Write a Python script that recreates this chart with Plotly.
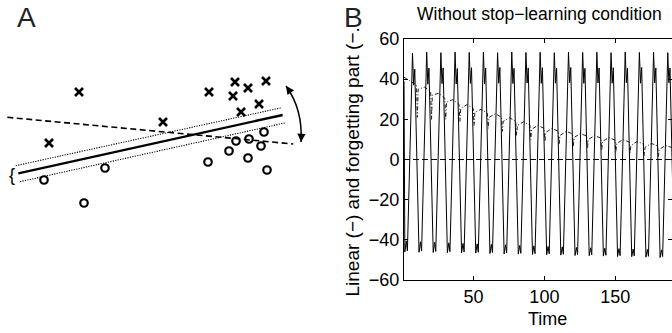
import plotly.graph_objects as go

# ---------------- Panel A (schematic) ----------------
a_cross_x = [79, 49, 163, 209, 235, 248, 266, 233, 259, 241]
a_cross_y = [92, 143, 122, 92, 82, 88, 81, 96, 104, 112]
a_circ_x = [44, 84, 105, 208, 229, 236, 249, 264, 261, 248, 267]
a_circ_y = [180, 203, 168, 162, 151, 141, 139, 132, 146, 158, 170]
a_solid_x = [18.3, 282.7]
a_solid_y = [173.3, 115.0]
a_dot_up_x = [15.7, 281.7]
a_dot_up_y = [165.7, 107.7]
a_dot_lo_x = [20.0, 286.0]
a_dot_lo_y = [181.7, 122.7]
a_dash_x = [7.3, 293.3]
a_dash_y = [117.3, 144.0]

# ---------------- Panel B (time series) ----------------
lin_t = [1.0,
 1.6, 2.6, 3.4, 7.0, 7.8, 8.6,
 11.6, 12.6, 13.4, 17.0, 17.8, 18.6,
 21.6, 22.6, 23.4, 27.0, 27.8, 28.6,
 31.6, 32.6, 33.4, 37.0, 37.8, 38.6,
 41.6, 42.6, 43.4, 47.0, 47.8, 48.6,
 51.6, 52.6, 53.4, 57.0, 57.8, 58.6,
 61.6, 62.6, 63.4, 67.0, 67.8, 68.6,
 71.6, 72.6, 73.4, 77.0, 77.8, 78.6,
 81.6, 82.6, 83.4, 87.0, 87.8, 88.6,
 91.6, 92.6, 93.4, 97.0, 97.8, 98.6,
 101.6, 102.6, 103.4, 107.0, 107.8, 108.6,
 111.6, 112.6, 113.4, 117.0, 117.8, 118.6,
 121.6, 122.6, 123.4, 127.0, 127.8, 128.6,
 131.6, 132.6, 133.4, 137.0, 137.8, 138.6,
 141.6, 142.6, 143.4, 147.0, 147.8, 148.6,
 151.6, 152.6, 153.4, 157.0, 157.8, 158.6,
 161.6, 162.6, 163.4, 167.0, 167.8, 168.6,
 171.6, 172.6, 173.4, 177.0, 177.8, 178.6,
 181.6, 182.6, 183.4, 187.0, 187.8, 188.6,
 191.6]
lin_y = [39.0,
 -46.0, -40.5, -45.5, 53.0, 37.0, 45.0,
 -46.2, -41.0, -45.6, 53.4, 37.5, 45.5,
 -46.3, -41.2, -45.8, 53.2, 37.8, 45.6,
 -46.4, -41.5, -45.9, 53.5, 37.6, 45.3,
 -46.5, -41.8, -46.0, 53.3, 37.9, 45.7,
 -46.6, -42.0, -46.2, 53.4, 37.7, 45.5,
 -46.8, -42.3, -46.4, 53.2, 38.0, 45.8,
 -47.0, -42.5, -46.5, 53.5, 37.8, 45.4,
 -47.1, -42.8, -46.7, 53.3, 38.1, 45.6,
 -47.3, -43.0, -46.9, 53.4, 37.9, 45.7,
 -47.4, -43.3, -47.0, 53.2, 38.0, 45.5,
 -47.6, -43.5, -47.2, 53.5, 38.2, 45.8,
 -47.8, -43.8, -47.4, 53.3, 37.9, 45.4,
 -47.9, -44.0, -47.5, 53.4, 38.1, 45.6,
 -48.1, -44.2, -47.7, 53.2, 38.0, 45.7,
 -48.3, -44.4, -47.9, 53.5, 38.2, 45.5,
 -48.4, -44.6, -48.0, 53.3, 38.0, 45.8,
 -48.6, -44.8, -48.2, 53.4, 38.1, 45.6,
 -48.8, -45.0, -48.3, 53.2, 38.2, 45.5,
 -49.0]

fg_t = [1.0, 5.0,
 9.8, 10.4, 11.0, 15.4,
 19.8, 20.4, 21.0, 25.4,
 29.8, 30.4, 31.0, 35.4,
 39.8, 40.4, 41.0, 45.4,
 49.8, 50.4, 51.0, 55.4,
 59.8, 60.4, 61.0, 65.4,
 69.8, 70.4, 71.0, 75.4,
 79.8, 80.4, 81.0, 85.4,
 89.8, 90.4, 91.0, 95.4,
 99.8, 100.4, 101.0, 105.4,
 109.8, 110.4, 111.0, 115.4,
 119.8, 120.4, 121.0, 125.4,
 129.8, 130.4, 131.0, 135.4,
 139.8, 140.4, 141.0, 145.4,
 149.8, 150.4, 151.0, 155.4,
 159.8, 160.4, 161.0, 165.4,
 169.8, 170.4, 171.0, 175.4,
 179.8, 180.4, 181.0, 185.4,
 189.8, 190.4]
fg_y = [41.0, 39.0,
 37.0, 21.0, 35.0, 36.0,
 34.0, 20.0, 32.0, 33.0,
 30.5, 20.0, 28.5, 29.8,
 27.5, 19.0, 25.5, 27.3,
 25.5, 17.0, 23.5, 25.0,
 23.0, 15.5, 21.0, 22.8,
 21.0, 14.0, 19.0, 20.8,
 19.0, 12.0, 17.0, 18.8,
 17.0, 10.0, 15.0, 17.0,
 15.5, 9.0, 13.5, 15.5,
 14.0, 7.5, 12.0, 14.0,
 12.8, 6.5, 11.0, 12.9,
 11.7, 5.5, 10.0, 11.9,
 10.7, 4.5, 9.0, 10.9,
 9.7, 3.5, 8.0, 9.9,
 8.7, 3.0, 7.0, 8.9,
 7.8, 2.0, 6.0, 8.0,
 6.8, 1.5, 5.0, 7.0,
 6.0, 1.0]

x_ticks = [50, 100, 150]
y_ticks = [-60, -40, -20, 0, 20, 40, 60]
x_range = [1, 190]
y_range = [-60, 60]

# ---------------- layout geometry (pixels) ----------------
W, H = 672, 333
TOP, BOT = 39, 280
B_LEFT = 404
A_RIGHT = 330
FONT = "Liberation Sans, Arial, Helvetica, sans-serif"


def px(x):
    return x / W


def py(y):
    return (BOT - y) / (BOT - TOP)


fig = go.Figure()

# Panel A traces
fig.add_trace(go.Scatter(x=a_dash_x, y=a_dash_y, mode="lines", xaxis="x2", yaxis="y2",
                         line=dict(color="black", width=1.6, dash="6px,3.5px")))
fig.add_trace(go.Scatter(x=a_dot_up_x, y=a_dot_up_y, mode="lines", xaxis="x2", yaxis="y2",
                         line=dict(color="black", width=1.1, dash="1.2px,1.3px")))
fig.add_trace(go.Scatter(x=a_dot_lo_x, y=a_dot_lo_y, mode="lines", xaxis="x2", yaxis="y2",
                         line=dict(color="black", width=1.1, dash="1.2px,1.3px")))
fig.add_trace(go.Scatter(x=a_solid_x, y=a_solid_y, mode="lines", xaxis="x2", yaxis="y2",
                         line=dict(color="black", width=2.4)))
fig.add_trace(go.Scatter(x=a_cross_x, y=a_cross_y, mode="markers", xaxis="x2", yaxis="y2",
                         marker=dict(symbol="x-thin", size=8, line=dict(color="black", width=2.6))))
fig.add_trace(go.Scatter(x=a_circ_x, y=a_circ_y, mode="markers", xaxis="x2", yaxis="y2",
                         marker=dict(symbol="circle-open", size=7.5, color="black",
                                     line=dict(color="black", width=2.2))))

# Panel B traces
fig.add_trace(go.Scatter(x=fg_t, y=fg_y, mode="lines", xaxis="x", yaxis="y",
                         line=dict(color="#222", width=1, dash="4px,2px,1px,2px")))
fig.add_trace(go.Scatter(x=lin_t, y=lin_y, mode="lines", xaxis="x", yaxis="y",
                         line=dict(color="black", width=1)))

axis_common = dict(showgrid=False, zeroline=False, showline=True, linecolor="black",
                   linewidth=1, ticks="inside", ticklen=4, tickcolor="black",
                   mirror="ticks", tickfont=dict(family=FONT, size=18, color="black"))

fig.update_layout(
    width=W, height=H,
    margin=dict(l=0, r=0, t=TOP, b=H - BOT, pad=0),
    paper_bgcolor="white", plot_bgcolor="white",
    showlegend=False,
    xaxis=dict(domain=[px(B_LEFT), 1], range=x_range, tickvals=x_ticks, anchor="y", **axis_common),
    yaxis=dict(domain=[0, 1], range=y_range, tickvals=y_ticks, anchor="x", **axis_common),
    xaxis2=dict(domain=[0, px(A_RIGHT)], range=[0, A_RIGHT], visible=False, anchor="y2"),
    yaxis2=dict(domain=[0, 1], range=[BOT, TOP], visible=False, anchor="x2"),
    shapes=[
        dict(type="line", xref="x domain", yref="y", x0=0, x1=1, y0=0, y1=0,
             line=dict(color="black", width=1, dash="6px,3px")),
        dict(type="path", xref="x2", yref="y2", path="M 286,86 Q 303,109.4 301,142",
             line=dict(color="black", width=1.5)),
    ],
)

ann = []
# curved double-arrow heads
ann.append(dict(x=286, y=86, xref="x2", yref="y2", ax=289.4, ay=90.7, axref="x2", ayref="y2",
                text="", showarrow=True, arrowhead=2, arrowsize=1.1, arrowwidth=1.5, arrowcolor="black"))
ann.append(dict(x=301, y=142, xref="x2", yref="y2", ax=301.4, ay=135.5, axref="x2", ayref="y2",
                text="", showarrow=True, arrowhead=2, arrowsize=1.1, arrowwidth=1.5, arrowcolor="black"))
# brace
ann.append(dict(x=px(12), y=py(174.5), xref="paper", yref="paper", text="{", showarrow=False,
                font=dict(family=FONT, size=18, color="black"), xanchor="center", yanchor="middle"))
# panel letters
ann.append(dict(x=px(26), y=py(17), xref="paper", yref="paper", text="A", showarrow=False,
                font=dict(family=FONT, size=28, color="#222"), xanchor="center", yanchor="middle"))
ann.append(dict(x=px(353), y=py(17), xref="paper", yref="paper", text="B", showarrow=False,
                font=dict(family=FONT, size=28, color="#222"), xanchor="center", yanchor="middle"))
# title
ann.append(dict(x=px(539.5), y=py(14), xref="paper", yref="paper",
                text="Without stop\u2212learning condition", showarrow=False,
                font=dict(family=FONT, size=17.5, color="black"), xanchor="center", yanchor="middle"))
# axis labels
ann.append(dict(x=px(352), y=py(162.5), xref="paper", yref="paper",
                text="Linear (\u2212) and forgetting part (\u2212.", showarrow=False, textangle=-90,
                font=dict(family=FONT, size=19, color="black"), xanchor="center", yanchor="middle"))
ann.append(dict(x=px(547.5), y=py(319), xref="paper", yref="paper", text="Time", showarrow=False,
                font=dict(family=FONT, size=18, color="black"), xanchor="center", yanchor="middle"))
fig.update_layout(annotations=ann)

fig.write_html("out.html",
               config={"displayModeBar": False},
               post_script="document.body.style.margin='0';document.body.style.padding='0';"
                           "document.body.style.overflow='hidden';")
